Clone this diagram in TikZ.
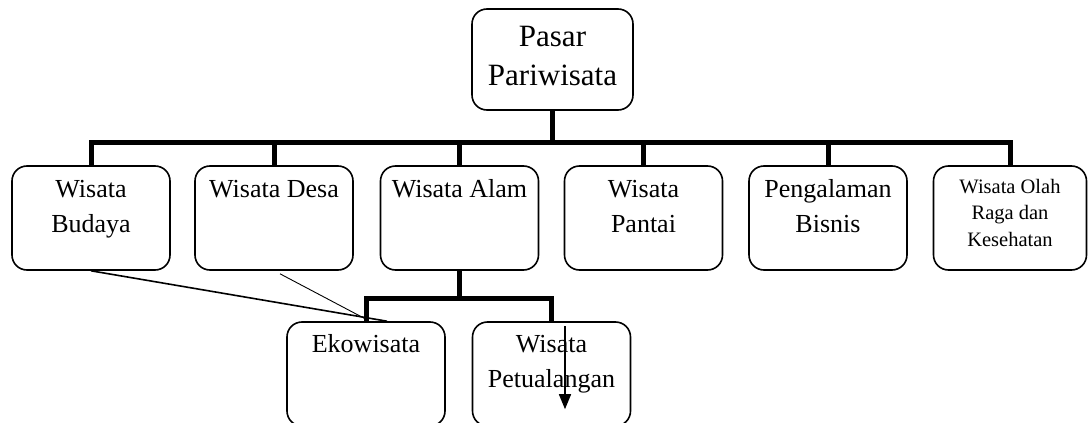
\documentclass[tikz,border=0pt]{standalone}
\usepackage{fontspec}
\setmainfont{Liberation Serif}
\usetikzlibrary{arrows.meta}
\tikzstyle{tourbox}=[draw,line width=1.6pt,rounded corners=15pt,inner sep=0,font=\fontsize{26}{35}\selectfont]
\tikzstyle{bar}=[line width=5pt,line join=miter]
\tikzstyle{thinlink}=[line width=1.6pt]
\tikzstyle{pointer}=[line width=1.6pt,-{Triangle[length=15pt,width=12pt]}]
\newcommand{\tourbox}[4][31pt]{\node[tourbox] (#2) at (#3) {\parbox[c][104pt][t]{158pt}{\centering\rule{0pt}{#1}#4}};}

\begin{document}
\begin{tikzpicture}[x=1pt,y=-1pt]
\useasboundingbox (0,0) rectangle (1088,423);
\clip (0,0) rectangle (1088,423);

\node[tourbox, font=\fontsize{31}{39}\selectfont] (root) at (552.5,59.5) {\parbox[c][101pt][t]{161pt}{\centering\rule{0pt}{37pt}Pasar\\Pariwisata}};

\tourbox{budaya}{91,218}{Wisata\\Budaya}
\tourbox{desa}{274,218}{Wisata Desa}
\tourbox{alam}{459.5,218}{Wisata Alam}
\tourbox{pantai}{643.5,218}{Wisata\\Pantai}
\tourbox{bisnis}{828,218}{Pengalaman\\Bisnis}
\node[tourbox, font=\fontsize{20.5}{26.7}\selectfont] (olahraga) at (1010,218) {\parbox[c][104pt][t]{153pt}{\centering\rule{0pt}{27pt}Wisata Olah\\Raga dan\\Kesehatan}};

\tourbox[30pt]{eko}{366,374}{Ekowisata}
\tourbox[30pt]{petualangan}{551.5,374}{Wisata\\Petualangan}

\foreach \child in {budaya,desa,alam,pantai,bisnis,olahraga}
  \draw[bar] (root.south) -- ++(0,32) -| (\child.north);
\foreach \child in {eko,petualangan}
  \draw[bar] (alam.south) -- ++(0,28) -| (\child.north);

\draw[thinlink] (budaya.south) -- ([xshift=21pt]eko.north);
\draw[line width=0.9pt] ([xshift=6pt,yshift=-3pt]desa.south) -- ([yshift=2pt]eko.north);
\draw[pointer] ([xshift=13.5pt,yshift=-5pt]petualangan.north) -- ++(0,83);
\end{tikzpicture}
\end{document}
